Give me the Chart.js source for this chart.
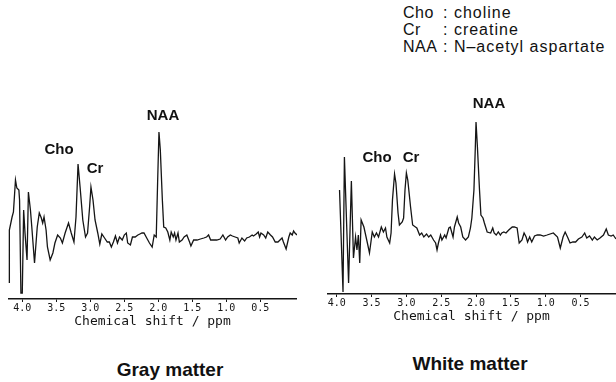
<!DOCTYPE html>
<html>
<head>
<meta charset="utf-8">
<script src="https://cdn.jsdelivr.net/npm/chart.js@4.4.1/dist/chart.umd.min.js"></script>
<style>
  body { margin: 0; background: #fff; width: 616px; height: 382px; position: relative; overflow: hidden;
         font-family: "Liberation Sans", Arial, sans-serif; color: #111; }
  canvas { position: absolute; }
  .peak { position: absolute; font-weight: bold; font-size: 15px; transform: translate(-50%, -50%); white-space: nowrap; }
  .title { position: absolute; font-weight: bold; font-size: 19px; transform: translate(-50%, -50%); white-space: nowrap; }
  .key { position: absolute; left: 403px; top: 4px; font-size: 16px; line-height: 17px; letter-spacing: 1px; }
  .key div { white-space: nowrap; }
  .key span { display: inline-block; width: 40px; letter-spacing: 0.5px; }
</style>
</head>
<body>
<canvas id="gray" width="289" height="229" style="left:8px;top:100px"></canvas>
<canvas id="white" width="289" height="244" style="left:327px;top:80px"></canvas>

<div class="peak" style="left:59px;top:148px">Cho</div>
<div class="peak" style="left:95px;top:167px">Cr</div>
<div class="peak" style="left:163px;top:114px">NAA</div>
<div class="peak" style="left:377px;top:156px">Cho</div>
<div class="peak" style="left:411px;top:156px">Cr</div>
<div class="peak" style="left:489px;top:102px">NAA</div>

<div class="key">
  <div><span>Cho</span>: choline</div>
  <div><span>Cr</span>: creatine</div>
  <div><span>NAA</span>: N–acetyl aspartate</div>
</div>

<div class="title" style="left:170px;top:370px">Gray matter</div>
<div class="title" style="left:470px;top:364px">White matter</div>

<script>
// chemical shift (ppm) ticks shown under both spectra
const tickValues = [4.0, 3.5, 3.0, 2.5, 2.0, 1.5, 1.0, 0.5];

// gray matter spectrum
const grayShift = [4.19, 4.19, 4.15, 4.13, 4.10, 4.08, 4.05, 4.04, 4.02, 4.00, 3.98, 3.96, 3.93, 3.91, 3.88, 3.86,
  3.82, 3.78, 3.75, 3.72, 3.70, 3.68, 3.65, 3.63, 3.59, 3.55, 3.52, 3.48, 3.44, 3.41, 3.37, 3.32, 3.28, 3.24,
  3.21, 3.18, 3.15, 3.11, 3.07, 3.04, 3.01, 2.99, 2.96, 2.93, 2.89, 2.86, 2.83, 2.79, 2.75, 2.72, 2.69, 2.66,
  2.63, 2.60, 2.57, 2.53, 2.50, 2.47, 2.45, 2.41, 2.38, 2.34, 2.30, 2.27, 2.24, 2.21, 2.17, 2.13, 2.09, 2.06,
  2.03, 2.01, 1.99, 1.97, 1.94, 1.92, 1.89, 1.86, 1.83, 1.81, 1.78, 1.76, 1.74, 1.71, 1.69, 1.65, 1.62, 1.58,
  1.54, 1.52, 1.48, 1.43, 1.38, 1.33, 1.29, 1.26, 1.23, 1.19, 1.14, 1.09, 1.05, 1.01, 0.98, 0.94, 0.91, 0.87,
  0.83, 0.81, 0.77, 0.73, 0.70, 0.66, 0.62, 0.60, 0.56, 0.53, 0.51, 0.49, 0.45, 0.42, 0.39, 0.35, 0.32, 0.28,
  0.24, 0.21, 0.18, 0.16, 0.12, 0.08, 0.06, 0.03, 0.01, -0.01, -0.04];
const grayIntensity = [16, 69, 82, 87, 119, 111, 109, 99, 6, 6, 89, 66, 39, 107, 89, 72,
  36, 72, 86, 81, 76, 82, 69, 52, 39, 46, 56, 64, 61, 56, 66, 76, 66, 57,
  82, 135, 112, 79, 62, 66, 92, 112, 99, 79, 66, 55, 65, 61, 57, 57, 52, 57,
  63, 56, 62, 59, 64, 66, 56, 54, 62, 62, 64, 65, 66, 66, 61, 56, 52, 64,
  62, 116, 167, 149, 99, 72, 71, 67, 59, 67, 62, 66, 59, 66, 57, 59, 62, 64,
  57, 53, 59, 59, 60, 61, 62, 64, 59, 59, 59, 60, 64, 59, 62, 64, 63, 62,
  61, 56, 61, 58, 61, 62, 64, 63, 65, 67, 62, 66, 64, 61, 67, 64, 62, 57,
  57, 59, 61, 57, 50, 62, 66, 64, 68, 66, 64];

// white matter spectrum
const whiteShift = [3.96, 3.91, 3.89, 3.83, 3.79, 3.76, 3.73, 3.71, 3.69, 3.67, 3.65, 3.61, 3.56, 3.53, 3.49,
  3.46, 3.43, 3.40, 3.36, 3.33, 3.30, 3.28, 3.24, 3.22, 3.20, 3.17, 3.15, 3.12, 3.10, 3.06, 3.04, 3.02, 3.00,
  2.98, 2.94, 2.91, 2.87, 2.85, 2.81, 2.78, 2.75, 2.71, 2.68, 2.65, 2.61, 2.58, 2.56, 2.54, 2.51, 2.49, 2.45,
  2.43, 2.39, 2.37, 2.33, 2.31, 2.27, 2.25, 2.22, 2.19, 2.15, 2.11, 2.08, 2.06, 2.03, 2.01, 2.00, 1.98, 1.95,
  1.93, 1.90, 1.88, 1.84, 1.79, 1.76, 1.74, 1.71, 1.68, 1.65, 1.63, 1.60, 1.57, 1.53, 1.48, 1.45, 1.41, 1.38,
  1.34, 1.31, 1.28, 1.26, 1.23, 1.20, 1.16, 1.12, 1.08, 1.03, 0.98, 0.89, 0.83, 0.79, 0.75, 0.72, 0.68, 0.65,
  0.61, 0.57, 0.53, 0.48, 0.44, 0.41, 0.37, 0.33, 0.30, 0.26, 0.22, 0.17, 0.13, 0.10, 0.06, 0.03, 0.00, -0.01];
const whiteIntensity = [104, 2, 137, 11, 113, 36, 57, 44, 59, 31, 74, 67, 51, 41, 62,
  57, 61, 57, 67, 62, 66, 57, 51, 61, 94, 120, 111, 81, 69, 72, 76, 104, 121,
  114, 87, 69, 67, 66, 59, 61, 57, 60, 57, 59, 54, 51, 44, 51, 59, 54, 59,
  56, 66, 67, 57, 67, 77, 71, 67, 57, 54, 57, 66, 76, 104, 147, 172, 147, 104,
  79, 76, 71, 62, 61, 66, 61, 59, 62, 59, 61, 62, 61, 64, 67, 67, 66, 51,
  54, 61, 57, 52, 57, 52, 58, 59, 59, 58, 59, 61, 57, 46, 57, 62, 56, 51,
  52, 52, 55, 57, 61, 56, 58, 54, 57, 54, 56, 59, 65, 59, 58, 59, 56, 55];

const INK = '#151515';

function spectrum(id, shift, intensity, xMin, xMax, yMax) {
  const points = shift.map((x, i) => ({ x, y: intensity[i] }));
  return new Chart(document.getElementById(id), {
    type: 'scatter',
    data: { datasets: [{ data: points, showLine: true, borderColor: INK, borderWidth: 1.3,
                         pointRadius: 0, tension: 0, fill: false }] },
    options: {
      responsive: false, animation: false, devicePixelRatio: 1,
      layout: { padding: 0 },
      plugins: { legend: { display: false }, tooltip: { enabled: false } },
      scales: {
        x: {
          type: 'linear', reverse: true, min: xMin, max: xMax,
          afterBuildTicks: s => { s.ticks = tickValues.map(v => ({ value: v })); },
          afterFit: s => { s.height = 30; },
          border: { display: true, color: INK, width: 1.5 },
          grid: { drawOnChartArea: false, drawTicks: true, tickLength: 3, color: INK, tickWidth: 1 },
          ticks: { autoSkip: false, maxRotation: 0, padding: 0, color: INK,
                   font: { family: '"DejaVu Sans Mono", "Liberation Mono", monospace', size: 10 },
                   callback: v => v.toFixed(1) },
          title: { display: true, text: 'Chemical shift / ppm', color: INK, padding: { top: 0, bottom: 0 },
                   font: { family: '"DejaVu Sans Mono", "Liberation Mono", monospace', size: 13 } }
        },
        y: { display: false, min: 0, max: yMax }
      }
    }
  });
}

spectrum('gray', grayShift, grayIntensity, -0.04, 4.21, 199);
spectrum('white', whiteShift, whiteIntensity, -0.01, 4.14, 214);
</script>
</body>
</html>
